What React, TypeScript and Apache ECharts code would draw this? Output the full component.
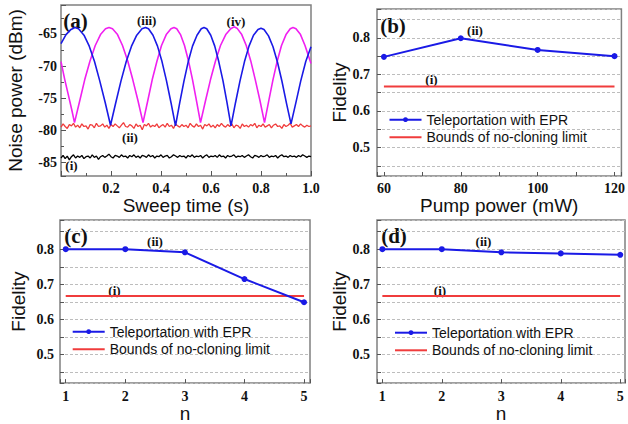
import React, { useEffect, useRef } from 'react';
import * as echarts from 'echarts';

// ---------- Panel (a): noise power vs sweep time ----------
const blueTime = [0, 0.02, 0.04, 0.056,
  0.070, 0.092, 0.113, 0.134, 0.155, 0.177, 0.198,
  0.219, 0.240, 0.261, 0.282, 0.303, 0.324, 0.338,
  0.350, 0.368, 0.386, 0.404, 0.422, 0.440, 0.458,
  0.475, 0.492, 0.509, 0.526, 0.544, 0.561, 0.572,
  0.583, 0.599, 0.615, 0.631, 0.648, 0.664, 0.680,
  0.698, 0.716, 0.734, 0.752, 0.770, 0.788, 0.800,
  0.812, 0.830, 0.848, 0.866, 0.884, 0.902, 0.920,
  0.940, 0.959, 0.979, 1.0];
const bluePower = [-66.5, -65.1, -64.3, -64.0,
  -64.2, -65.2, -66.9, -69.3, -72.3, -75.7, -79.2,
  -75.7, -72.3, -69.3, -66.9, -65.2, -64.2, -64.0,
  -64.2, -65.2, -66.9, -69.3, -72.3, -75.7, -79.3,
  -75.7, -72.3, -69.3, -66.9, -65.2, -64.2, -64.0,
  -64.2, -65.2, -66.9, -69.3, -72.3, -75.7, -79.3,
  -75.7, -72.3, -69.3, -66.9, -65.2, -64.3, -64.1,
  -64.3, -65.3, -67.0, -69.4, -72.4, -75.8, -79.0,
  -75.6, -72.3, -69.3, -67.0];

const magentaTime = [0, 0.015, 0.030, 0.043, 0.054,
  0.075, 0.095, 0.116, 0.137, 0.158, 0.178, 0.192,
  0.206, 0.226, 0.246, 0.267, 0.287, 0.308, 0.328,
  0.347, 0.365, 0.384, 0.402, 0.421, 0.440, 0.452,
  0.463, 0.478, 0.494, 0.510, 0.526, 0.542, 0.558,
  0.578, 0.598, 0.618, 0.638, 0.659, 0.679, 0.692,
  0.704, 0.723, 0.741, 0.759, 0.777, 0.796, 0.814,
  0.831, 0.848, 0.865, 0.882, 0.900, 0.917, 0.928,
  0.940, 0.958, 0.976, 1.0];
const magentaPower = [-69.3, -72.1, -74.6, -76.8, -78.8,
  -75.4, -72.1, -69.2, -66.8, -65.1, -64.2, -64.0,
  -64.2, -65.1, -66.8, -69.2, -72.1, -75.4, -78.8,
  -75.4, -72.1, -69.2, -66.8, -65.1, -64.2, -64.0,
  -64.2, -65.1, -66.8, -69.2, -72.1, -75.4, -78.8,
  -75.4, -72.1, -69.2, -66.8, -65.1, -64.2, -63.9,
  -64.1, -65.1, -66.8, -69.2, -72.1, -75.4, -78.8,
  -75.4, -72.1, -69.2, -66.8, -65.1, -64.2, -64.0,
  -64.2, -65.1, -66.8, -69.6];

// shot-noise level (ii), sampled evenly over the 1 s sweep
const shotNoise = [
  -79.5, -79.0, -79.4, -79.7, -79.1, -79.3, -78.9, -79.5, -79.2, -79.6,
  -79.0, -79.4, -79.3, -79.8, -79.1, -79.2, -79.6, -78.9, -79.4, -79.3,
  -79.0, -79.5, -79.2, -79.7, -79.1, -79.4, -79.0, -79.3, -79.6, -79.2,
  -78.8, -79.4, -79.5, -79.1, -79.3, -79.7, -79.0, -79.4, -79.2, -79.9,
  -79.1, -79.3, -78.9, -79.5, -79.2, -79.4, -79.0, -79.6, -79.3, -79.1,
  -79.5, -78.9, -79.4, -79.2, -79.7, -79.0, -79.3, -79.5, -79.1, -79.4,
  -79.2, -79.6, -78.9, -79.3, -79.5, -79.0, -79.4, -79.2, -79.8, -79.1,
  -79.3, -79.0, -79.5, -79.2, -79.6, -79.1, -79.4, -78.9, -79.3, -79.5,
  -79.1, -79.4, -79.0, -79.6, -79.2, -79.3, -79.7, -79.0, -79.4, -79.2,
  -79.5, -79.1, -79.3, -78.9, -79.6, -79.2, -79.4, -79.0, -79.5, -79.3,
  -79.1, -79.6, -79.2, -79.0, -79.4, -79.3, -79.7, -79.1, -79.4, -79.2,
  -78.9, -79.5, -79.3, -79.1, -79.4, -79.0, -79.3, -79.5, -79.2, -79.4, -79.3];

// electronic noise level (i)
const electronicNoise = [
  -84.3, -83.9, -84.4, -84.0, -84.6, -84.1, -83.8, -84.3, -84.0, -84.2,
  -83.9, -84.4, -84.1, -84.0, -84.3, -83.8, -84.2, -84.0, -84.5, -84.1,
  -83.9, -84.2, -84.0, -83.7, -84.1, -84.3, -83.9, -84.0, -84.2, -83.8,
  -84.1, -84.0, -84.3, -83.9, -84.1, -83.8, -84.2, -84.0, -84.3, -83.9,
  -84.0, -84.2, -83.8, -84.1, -83.9, -84.3, -84.0, -84.1, -83.8, -84.2,
  -84.0, -83.9, -84.3, -84.1, -83.8, -84.0, -84.2, -83.9, -84.1, -84.0,
  -84.3, -83.9, -84.1, -83.8, -84.2, -84.0, -84.1, -83.9, -84.3, -84.0,
  -83.8, -84.2, -84.0, -84.1, -83.9, -84.2, -83.8, -84.1, -84.0, -84.3,
  -83.9, -84.1, -84.0, -83.8, -84.2, -84.0, -84.1, -83.9, -84.2, -84.0,
  -83.8, -84.1, -84.3, -83.9, -84.0, -84.2, -83.9, -84.1, -84.0, -83.8,
  -84.2, -84.0, -84.1, -83.9, -84.3, -84.0, -83.8, -84.1, -84.0, -84.2,
  -83.9, -84.1, -84.0, -84.2, -83.9, -84.1, -83.8, -84.0, -84.2, -84.0, -84.1];

const sweepDuration = 1.0;

// ---------- Panels (b)-(d): fidelity ----------
const pumpPower = [60, 80, 100, 120];
const fidelityVsPump = [0.748, 0.799, 0.767, 0.750];
const nValues = [1, 2, 3, 4, 5];
const fidelityC = [0.800, 0.800, 0.791, 0.715, 0.649];
const fidelityD = [0.800, 0.800, 0.791, 0.788, 0.784];
const noCloningLimit = 0.667;

const EPR = 'Teleportation with EPR';
const BOUND = 'Bounds of no-cloning limit';

const SERIF = '"Liberation Serif", "Times New Roman", serif';
const SANS = '"Liberation Sans", Arial, sans-serif';
const FRAME = '#808080';
const BLUE = '#1a1ae6';
const RED = '#f03c3c';
const MAGENTA = '#f020f0';

const tickLabel = { fontFamily: SERIF, fontWeight: 'bold' as const, fontSize: 14, color: '#111' };
const nameText = { fontFamily: SANS, fontSize: 19, color: '#111' };

const near = (v: number, step: number) => Math.abs(v / step - Math.round(v / step)) < 1e-6;

function fidelityYAxis(gridIndex: number, min: number, max: number, margin: number, gap: number) {
  return {
    type: 'value', gridIndex, min, max, splitNumber: 9,
    name: 'Fidelity', nameLocation: 'middle', nameGap: gap, nameTextStyle: nameText,
    axisLine: { show: false },
    axisTick: { show: true, inside: true, length: 4, lineStyle: { color: '#555' } },
    axisLabel: {
      ...tickLabel, margin,
      formatter: (v: number) => (near(v, 0.1) && v > 0.45 && v < 0.85 ? v.toFixed(1) : ''),
    },
    splitLine: { show: true, lineStyle: { color: '#bdbdbd', type: [3, 2], width: 1 } },
  };
}

function nXAxis(gridIndex: number, min: number, max: number) {
  return {
    type: 'value', gridIndex, min, max, splitNumber: 4,
    name: 'n', nameLocation: 'middle', nameGap: 16, nameTextStyle: nameText,
    axisLine: { show: false },
    axisTick: { show: true, inside: true, length: 4, lineStyle: { color: '#555' } },
    axisLabel: {
      ...tickLabel, margin: 6,
      formatter: (v: number) => (near(v, 1) && v >= 1 && v <= 5 ? String(Math.round(v)) : ''),
    },
    splitLine: { show: false },
  };
}

function eprSeries(xAxisIndex: number, xs: number[], ys: number[]) {
  return {
    name: EPR, type: 'line', xAxisIndex, yAxisIndex: xAxisIndex,
    data: xs.map((x, i) => [x, ys[i]]),
    symbol: 'circle', symbolSize: 6,
    lineStyle: { color: BLUE, width: 2 }, itemStyle: { color: BLUE },
    z: 3,
  };
}

function boundSeries(xAxisIndex: number, xs: number[]) {
  return {
    name: BOUND, type: 'line', xAxisIndex, yAxisIndex: xAxisIndex,
    data: [[xs[0], noCloningLimit], [xs[xs.length - 1], noCloningLimit]],
    symbol: 'none', lineStyle: { color: RED, width: 2 }, itemStyle: { color: RED },
    z: 2,
  };
}

function legendAt(left: number, top: number) {
  return {
    orient: 'vertical', left, top, itemWidth: 32, itemHeight: 6, itemGap: 3.6,
    textStyle: { fontFamily: SANS, fontSize: 14, color: '#111' },
    data: [EPR, { name: BOUND, itemStyle: { opacity: 0 } }], selectedMode: false,
  };
}

function annotation(text: string, x: number, y: number, size: number) {
  return {
    type: 'text', x, y, silent: true,
    style: {
      text, fill: '#111', font: `bold ${size}px ${SERIF}`,
      textAlign: 'center', textVerticalAlign: 'middle', align: 'center', verticalAlign: 'middle',
    },
  };
}

const gridStyle = { show: true, borderColor: FRAME, borderWidth: 1.5, backgroundColor: 'transparent' };

export default function App() {
  const ref = useRef<HTMLDivElement>(null);
  useEffect(() => {
    if (!ref.current) return;
    const chart = echarts.init(ref.current, undefined, { renderer: 'svg' });
    const sweepStep = sweepDuration / (shotNoise.length - 1);
    const elecStep = sweepDuration / (electronicNoise.length - 1);
    chart.setOption({
      animation: false,
      backgroundColor: '#fff',
      grid: [
        { left: 61, right: 317, top: 5, bottom: 248, ...gridStyle },
        { left: 377, right: 3, top: 9, bottom: 248, ...gridStyle },
        { left: 60, right: 318, top: 220, bottom: 37, ...gridStyle },
        { left: 377, right: 3, top: 220, bottom: 37, ...gridStyle },
      ],
      xAxis: [
        {
          type: 'value', gridIndex: 0, min: 0, max: 1, interval: 0.2,
          name: 'Sweep time (s)', nameLocation: 'middle', nameGap: 18, nameTextStyle: nameText,
          axisLine: { show: false },
          axisTick: { show: true, inside: true, length: 5, lineStyle: { color: '#555' } },
          minorTick: { show: true, splitNumber: 2, length: 3, lineStyle: { color: '#555' } },
          axisLabel: { ...tickLabel, margin: 5, formatter: (v: number) => (v > 0.01 ? v.toFixed(1) : '') },
          splitLine: { show: false },
        },
        {
          type: 'value', gridIndex: 1, min: 58.2, max: 121.8, splitNumber: 6,
          name: 'Pump power (mW)', nameLocation: 'middle', nameGap: 18, nameTextStyle: nameText,
          axisLine: { show: false },
          axisTick: { show: true, inside: true, length: 4, lineStyle: { color: '#555' } },
          axisLabel: {
            ...tickLabel, margin: 5,
            formatter: (v: number) => (near(v, 20) && v >= 60 && v <= 120 ? String(Math.round(v)) : ''),
          },
          splitLine: { show: false },
        },
        nXAxis(2, 0.904, 5.1),
        nXAxis(3, 0.91, 5.08),
      ],
      yAxis: [
        {
          type: 'value', gridIndex: 0, min: -87.1, max: -60.5, splitNumber: 5,
          name: 'Noise power (dBm)', nameLocation: 'middle', nameGap: 36, nameTextStyle: nameText,
          axisLine: { show: false },
          axisTick: { show: true, inside: true, length: 5, lineStyle: { color: '#555' } },
          minorTick: { show: true, splitNumber: 2, length: 3, lineStyle: { color: '#555' } },
          axisLabel: {
            ...tickLabel, margin: 4,
            formatter: (v: number) => (near(v, 5) && v > -87 && v < -61 ? String(Math.round(v)) : ''),
          },
          splitLine: { show: false },
        },
        fidelityYAxis(1, 0.422, 0.879, 7, 28),
        fidelityYAxis(2, 0.419, 0.883, 6, 32),
        fidelityYAxis(3, 0.419, 0.883, 7, 28),
      ],
      legend: [legendAt(383.5, 107.7), legendAt(66.7, 319.7), legendAt(389, 320.7)],
      series: [
        {
          name: 'electronic noise', type: 'line', xAxisIndex: 0, yAxisIndex: 0, symbol: 'none',
          data: electronicNoise.map((v, i) => [i * elecStep, v]),
          lineStyle: { color: '#000', width: 1.3 },
        },
        {
          name: 'shot noise', type: 'line', xAxisIndex: 0, yAxisIndex: 0, symbol: 'none',
          data: shotNoise.map((v, i) => [i * sweepStep, v]),
          lineStyle: { color: RED, width: 1.3 },
        },
        {
          name: 'amplitude sum', type: 'line', xAxisIndex: 0, yAxisIndex: 0, symbol: 'none',
          data: magentaTime.map((t, i) => [t, magentaPower[i]]),
          lineStyle: { color: MAGENTA, width: 1.6 },
        },
        {
          name: 'phase difference', type: 'line', xAxisIndex: 0, yAxisIndex: 0, symbol: 'none',
          data: blueTime.map((t, i) => [t, bluePower[i]]),
          lineStyle: { color: BLUE, width: 1.6 },
        },
        boundSeries(1, pumpPower),
        eprSeries(1, pumpPower, fidelityVsPump),
        boundSeries(2, nValues),
        eprSeries(2, nValues, fidelityC),
        boundSeries(3, nValues),
        eprSeries(3, nValues, fidelityD),
      ],
      graphic: [
        annotation('(a)', 75.5, 21, 21),
        annotation('(iii)', 146.7, 20, 13),
        annotation('(iv)', 236, 21, 13),
        annotation('(ii)', 130, 137, 13),
        annotation('(i)', 71.5, 165, 13),
        annotation('(b)', 393, 25.5, 21),
        annotation('(ii)', 475, 30, 13),
        annotation('(i)', 431.5, 79.5, 13),
        annotation('(c)', 76, 235.5, 21),
        annotation('(ii)', 155, 241.5, 13),
        annotation('(i)', 114.5, 290, 13),
        annotation('(d)', 394, 235.5, 21),
        annotation('(ii)', 483.5, 241.5, 13),
        annotation('(i)', 440, 290, 13),
      ],
    });
    return () => chart.dispose();
  }, []);
  return <div ref={ref} style={{ position: 'absolute', left: 0, top: 0, width: 628, height: 424, background: '#fff' }} />;
}
